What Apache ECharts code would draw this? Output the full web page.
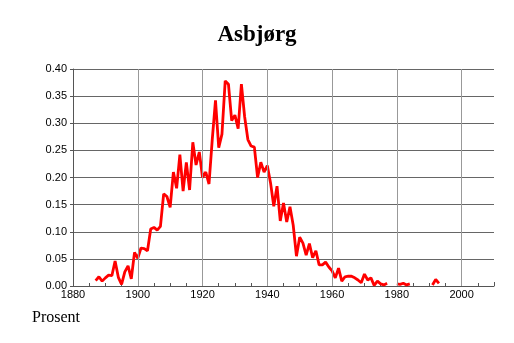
<!DOCTYPE html>
<html><head><meta charset="utf-8">
<script src="https://cdn.jsdelivr.net/npm/echarts@6/dist/echarts.min.js"></script>
<style>html,body{margin:0;padding:0;background:#fff;}#c{width:514px;height:343px;}</style>
</head><body><div id="c"></div>
<script>
const title = "Asbjørg";
const yLabel = "Prosent";
const years = [1887,1888,1889,1890,1891,1892,1893,1894,1895,1896,1897,1898,1899,
1900,1901,1902,1903,1904,1905,1906,1907,1908,1909,1910,1911,1912,1913,1914,1915,1916,1917,1918,1919,
1920,1921,1922,1923,1924,1925,1926,1927,1928,1929,1930,1931,1932,1933,1934,1935,1936,1937,1938,1939,
1940,1941,1942,1943,1944,1945,1946,1947,1948,1949,1950,1951,1952,1953,1954,1955,1956,1957,1958,1959,
1960,1961,1962,1963,1964,1965,1966,1967,1968,1969,1970,1971,1972,1973,1974,1975,1976,1977,1978,1979,
1980,1981,1982,1983,1984,1985,1986,1987,1988,1989,1990,1991,1992,1993];
const values = [0.010,0.017,0.009,0.015,0.020,0.019,0.046,0.016,0.003,0.026,0.037,0.013,0.062,
0.051,0.070,0.069,0.065,0.105,0.108,0.103,0.110,0.170,0.165,0.145,0.210,0.180,0.242,0.175,0.228,0.177,0.265,0.223,0.247,
0.200,0.210,0.188,0.270,0.342,0.255,0.280,0.378,0.372,0.305,0.315,0.290,0.372,0.312,0.270,0.258,0.256,0.200,0.228,0.210,
0.222,0.190,0.147,0.184,0.120,0.153,0.118,0.146,0.112,0.055,0.090,0.079,0.057,0.078,0.052,0.065,0.039,0.039,0.044,0.035,
0.028,0.015,0.033,0.009,0.017,0.018,0.018,0.015,0.011,0.006,0.022,0.011,0.015,0.001,0.009,0.004,0.002,0.005,null,null,
0.004,0.003,0.005,0.002,0.004,null,null,null,null,null,null,0.002,0.012,0.005];
const xTicks = [1880,1900,1920,1940,1960,1980,2000];

const chart = echarts.init(document.getElementById('c'), null, {renderer:'canvas'});
chart.setOption({
  animation:false,
  backgroundColor:'#fff',
  title:{text:title,left:'center',top:19,textStyle:{fontFamily:'Liberation Serif',fontWeight:'bold',fontSize:23,color:'#000'}},
  graphic:[{type:'text',left:32,top:310,style:{text:yLabel,font:'16px "Liberation Serif"',fill:'#000'}}],
  grid:{left:73,right:20,top:69,bottom:57},
  xAxis:{type:'value',min:1880,max:2010,interval:20,
    axisLine:{show:true,lineStyle:{color:'#555',width:1}},
    axisTick:{show:true,inside:true,length:4,lineStyle:{color:'#555'}},
    minorTick:{show:true,splitNumber:4,length:3,lineStyle:{color:'#555'}},
    axisLabel:{fontFamily:'Liberation Sans',fontSize:11,color:'#000',margin:3,
      formatter:function(v){return xTicks.indexOf(v)>=0?String(v):'';}},
    splitLine:{show:false}},
  yAxis:{type:'value',min:0,max:0.4,interval:0.05,
    axisLine:{show:true,lineStyle:{color:'#555'}},
    axisTick:{show:true,length:3,lineStyle:{color:'#555'}},
    axisLabel:{fontFamily:'Liberation Sans',fontSize:11,color:'#000',margin:6,formatter:function(v){return v.toFixed(2);}},
    splitLine:{show:true,lineStyle:{color:'#666',width:1}}},
  series:[
    {type:'line',data:[],silent:true,
      markLine:{silent:true,symbol:'none',label:{show:false},animation:false,
        lineStyle:{color:'#999',width:1,type:'solid'},
        data:xTicks.slice(1).map(v=>({xAxis:v}))}},
    {type:'line',data:years.map((y,i)=>[y,values[i]]),showSymbol:false,connectNulls:false,
    lineStyle:{color:'#ff0000',width:2.8},itemStyle:{color:'#ff0000'}}]
});
</script></body></html>
